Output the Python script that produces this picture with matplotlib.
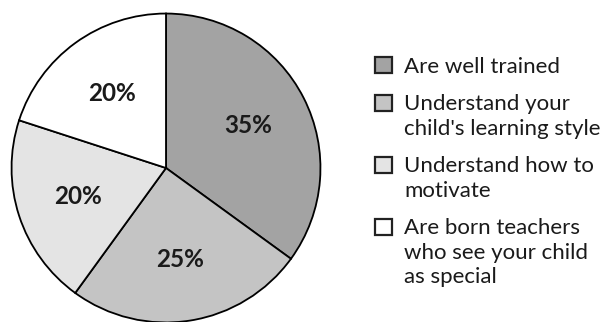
import matplotlib
matplotlib.use("Agg")
from matplotlib import pyplot as plt
from matplotlib.patches import Rectangle

# data
labels = ["Are well trained",
          "Understand your\nchild's learning style",
          "Understand how to\nmotivate",
          "Are born teachers\nwho see your child\nas special"]
shares = [35, 25, 20, 20]
colors = ["#a3a3a3", "#c4c4c4", "#e4e4e4", "#ffffff"]

plt.rcParams['font.family'] = ['Lato', 'DejaVu Sans']

fig = plt.figure(figsize=(6.02, 3.22), dpi=100)
W, H = 602, 322

# pie axes, centre ~(166,168) px, radius ~156 px
cx, cy, r = 166, 168, 156
ax = fig.add_axes([(cx - r) / W, (H - cy - r) / H, 2 * r / W, 2 * r / H])
wedges, texts, autotexts = ax.pie(
    shares, colors=colors, startangle=90, counterclock=False,
    autopct=lambda p: f"{p:.0f}%", pctdistance=0.6,
    wedgeprops=dict(edgecolor="black", linewidth=1.3),
    textprops=dict(fontsize=17.5, fontweight="bold", color="#1a1a1a"))
ax.set_xlim(-1.01, 1.01)
ax.set_ylim(-1.01, 1.01)
ax.set_aspect("equal")
ax.axis("off")

# legend drawn by hand
fs = 16
line_h = 24.5
y = 65  # centre of first line, px from top
for lab, col in zip(labels, colors):
    fig.patches.append(Rectangle((375 / W, 1 - (y + 8) / H), 17 / W, 16 / H,
                                 transform=fig.transFigure, facecolor=col,
                                 edgecolor="#222222", linewidth=1.6))
    fig.text(404 / W, 1 - (y - 8) / H, lab, fontsize=fs, color="#1a1a1a",
             va="top", ha="left", linespacing=1.26)
    y += line_h * (lab.count("\n") + 1) + 13

fig.savefig("out.png", dpi=100)
